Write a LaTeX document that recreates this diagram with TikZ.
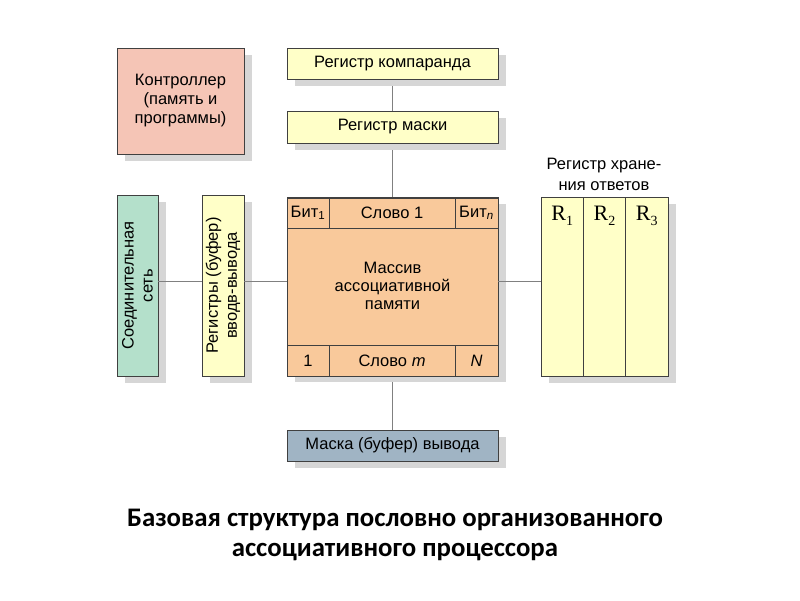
\documentclass[tikz,border=0pt]{standalone}
\usepackage{fontspec}
\setmainfont{Liberation Sans}
\newfontfamily\titlefont{Carlito}
\newfontfamily\rfont{Liberation Serif}
\usetikzlibrary{shadows}
\definecolor{ctrlred}{RGB}{245,197,182}
\definecolor{netgreen}{RGB}{180,224,203}
\definecolor{regyellow}{RGB}{255,255,200}
\definecolor{arrorange}{RGB}{249,201,155}
\definecolor{outblue}{RGB}{160,180,196}
\newcommand{\rsub}[1]{R\raisebox{-5pt}{\fontsize{14}{14}\selectfont #1}}

\begin{document}
\begin{tikzpicture}[x=1pt,y=-1pt,font=\fontsize{16.5}{19}\selectfont,
    box/.style={draw=black!75,line width=0.8pt,align=center,inner sep=0pt,
      drop shadow={shadow xshift=8pt,shadow yshift=-7pt,fill=black!16,opacity=1}},
    cell/.style={draw=black!75,line width=0.8pt,inner sep=0pt,fill=arrorange},
    rlabel/.style={anchor=north,inner sep=0pt,yshift=-9pt,font=\rfont\fontsize{22}{22}\selectfont},
    link/.style={draw=black!50,line width=0.8pt}]
    \useasboundingbox (0,0) rectangle (800,600);
    \coordinate (hl) at (0,281);

    \path[link] (392,79) -- (392,430);

    \node[box,fill=ctrlred,minimum width=127pt,minimum height=106pt] (ctrl) at (180.5,101) {Контроллер\\(память и\\программы)};
    \node[box,fill=regyellow,minimum width=211pt,minimum height=31pt] (komp) at (392.5,63.5) {Регистр компаранда};
    \node[box,fill=regyellow,minimum width=211pt,minimum height=32pt] (mask) at (392.5,127) {Регистр маски};
    \node[box,fill=netgreen,rotate=90,minimum width=181pt,minimum height=41pt] (net) at (137.5,285.5) {Соединительная\\сеть};
    \node[box,fill=regyellow,rotate=90,minimum width=181pt,minimum height=42pt] (ioreg) at (223,285.5) {Регистры (буфер)\\вводв-вывода};
    \node[box,fill=arrorange,minimum width=211pt,minimum height=178pt,font=\fontsize{16.5}{18}\selectfont] (arr) at (392.5,286) {Массив\\ассоциативной\\памяти};
    \node[cell,minimum width=42pt,minimum height=30pt] (bit1) at (308,213) {Бит\textsubscript{1}};
    \node[cell,minimum width=126pt,minimum height=30pt] (word1) at (392,213) {Слово 1};
    \node[cell,minimum width=43pt,minimum height=30pt] (bitn) at (476.5,213) {Бит\textsubscript{\itshape n}};
    \node[cell,minimum width=42pt,minimum height=31pt] (one) at (308,360.5) {1};
    \node[cell,minimum width=126pt,minimum height=31pt] (wordm) at (392,360.5) {Слово \textit{m}};
    \node[cell,minimum width=43pt,minimum height=31pt] (bigN) at (476.5,360.5) {\textit{N}};
    \node[box,fill=outblue,minimum width=211pt,minimum height=31pt] (outmask) at (392.5,445.5) {Маска (буфер) вывода};

    \node[box,fill=regyellow,minimum width=127pt,minimum height=179pt] (resp) at (604.5,286.5) {};
    \node[cell,fill=regyellow,minimum width=42.3pt,minimum height=179pt,
      label={[rlabel]north:\rsub{1}}] (r1) at (562.2,286.5) {};
    \node[cell,fill=regyellow,minimum width=42.3pt,minimum height=179pt,
      label={[rlabel]north:\rsub{2}}] (r2) at (604.5,286.5) {};
    \node[cell,fill=regyellow,minimum width=42.3pt,minimum height=179pt,
      label={[rlabel]north:\rsub{3}}] (r3) at (646.8,286.5) {};
    \node[align=center,font=\fontsize{16.5}{21}\selectfont] (respl) at (604,174) {Регистр хране-\\ния ответов};

    \path[link]
    (net.south |- hl) edge (ioreg.north |- hl)
    (ioreg.south |- hl) edge (arr.west |- hl)
    (arr.east |- hl) edge (resp.west |- hl);

    \node[align=center,font=\titlefont\bfseries\fontsize{26.8}{30}\selectfont] (title) at (395,535) {Базовая структура пословно организованного\\ассоциативного процессора};
\end{tikzpicture}
\end{document}
